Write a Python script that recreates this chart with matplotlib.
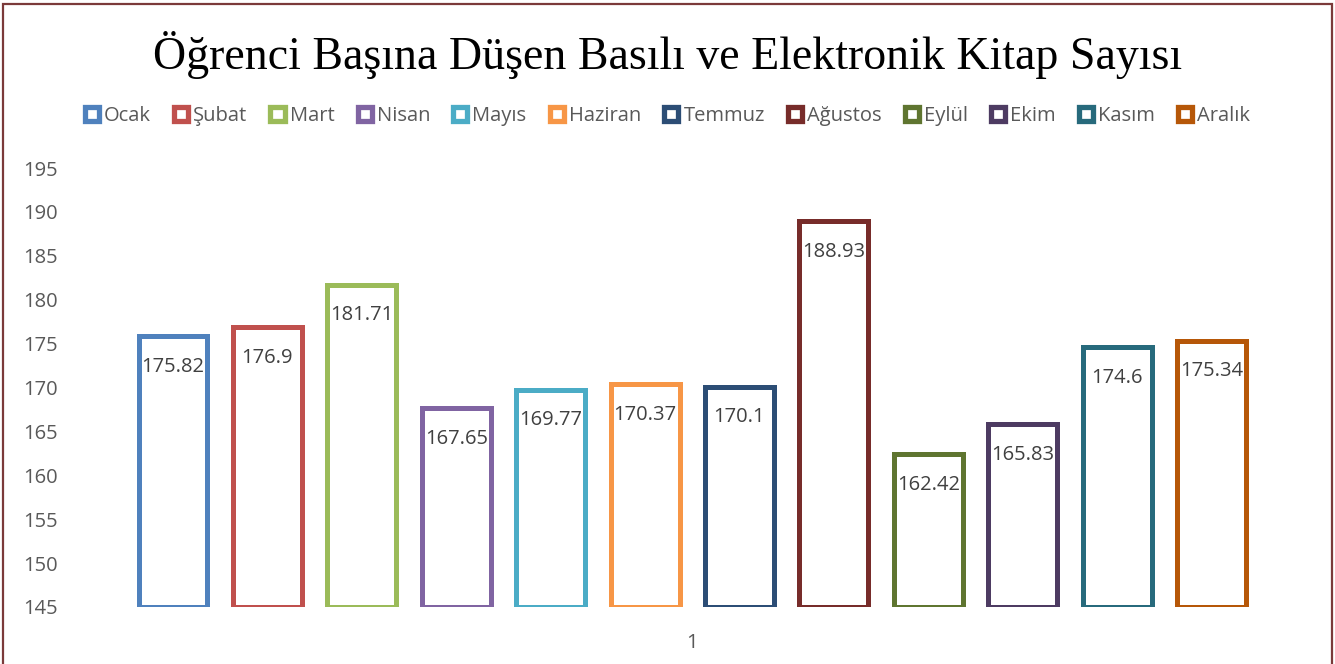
import matplotlib.pyplot as plt
from matplotlib.patches import Patch, Rectangle

# --- Daten ---
months = ["Ocak", "Şubat", "Mart", "Nisan", "Mayıs", "Haziran",
          "Temmuz", "Ağustos", "Eylül", "Ekim", "Kasım", "Aralık"]
values = [175.82, 176.9, 181.71, 167.65, 169.77, 170.37,
          170.1, 188.93, 162.42, 165.83, 174.6, 175.34]
colors = ["#4f81bd", "#c0504d", "#9bbb59", "#8064a2", "#4bacc6", "#f79646",
          "#2c4d75", "#772c2a", "#5f7530", "#4d3b62", "#276a7c", "#b65708"]
y_ticks = list(range(145, 200, 5))
category_label = "1"

W, H = 1335, 664
fig = plt.figure(figsize=(W / 100, H / 100), dpi=100)

# Rahmen um die Grafik
fig.patches.append(Rectangle((3 / W, -0.01), (1332 - 3) / W, 1.01 - 4 / H,
                             transform=fig.transFigure, fill=False,
                             edgecolor="#7b3a3a", linewidth=1.6))

ax = fig.add_axes([65 / W, 1 - 607 / H, (1320 - 65) / W, (607 - 168) / H])

base = 145
for i, (v, c) in enumerate(zip(values, colors)):
    ax.bar(i, v - base, bottom=base, width=0.73, facecolor="white",
           edgecolor=c, linewidth=3.6)
    ax.text(i, v - 3.5, f"{v:g}", ha="center", va="center",
            fontsize=14.5, color="#404040", family="Open Sans")

ax.set_xlim(-1.144, 12.149)
ax.set_ylim(145, 195)
ax.set_yticks(y_ticks)
ax.set_xticks([5.5])
ax.set_xticklabels([category_label])
for s in ax.spines.values():
    s.set_visible(False)
ax.tick_params(length=0, labelsize=14.5, labelcolor="#595959")
for lbl in ax.get_yticklabels() + ax.get_xticklabels():
    lbl.set_family("Open Sans")
ax.tick_params(axis="y", pad=5)
ax.tick_params(axis="x", pad=19)

# Titel
fig.text(0.5, 1 - 55 / H, "Öğrenci Başına Düşen Basılı ve Elektronik Kitap Sayısı",
         ha="center", va="center", fontsize=33, family="Liberation Serif",
         color="#000000")

# Legende
handles = [Patch(facecolor="white", edgecolor=c, linewidth=3.8) for c in colors]
fig.legend(handles, months, loc="center", bbox_to_anchor=(0.5, 1 - 116 / H),
           ncol=12, frameon=False, prop={"family": "Open Sans", "size": 14.5},
           labelcolor="#595959", handlelength=0.7, handleheight=0.7,
           handletextpad=0.25, columnspacing=1.15)

fig.savefig("out.png", dpi=100)
